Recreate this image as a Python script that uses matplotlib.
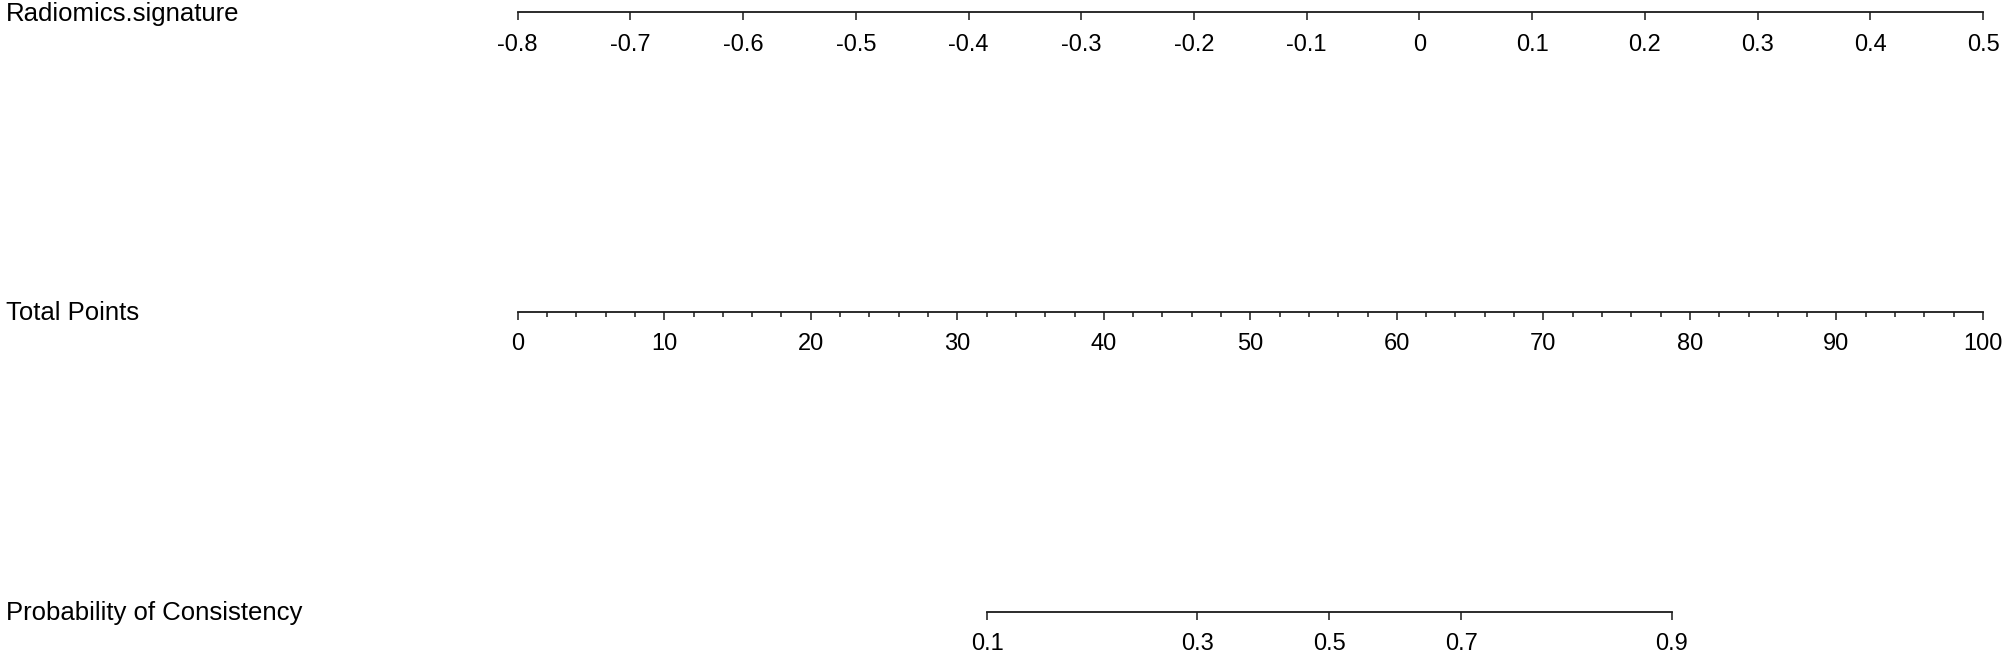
import numpy as np
import matplotlib
matplotlib.use('Agg')
import matplotlib.pyplot as plt

plt.rcParams['font.family'] = ['Liberation Sans', 'DejaVu Sans']

# data
row_names = ['Radiomics.signature', 'Total Points', 'Probability of Consistency']
radiomics_ticks = [-0.8, -0.7, -0.6, -0.5, -0.4, -0.3, -0.2, -0.1, 0, 0.1, 0.2, 0.3, 0.4, 0.5]
radiomics_labels = ['-0.8', '-0.7', '-0.6', '-0.5', '-0.4', '-0.3', '-0.2', '-0.1', '0',
                    '0.1', '0.2', '0.3', '0.4', '0.5']
points_major = [0, 10, 20, 30, 40, 50, 60, 70, 80, 90, 100]
points_minor = list(range(0, 101, 2))
prob_ticks = [0.1, 0.3, 0.5, 0.7, 0.9]
prob_labels = ['0.1', '0.3', '0.5', '0.7', '0.9']
lp_center = 55.4
lp_scale = 10.63

W, H = 2008, 653
fig = plt.figure(figsize=(W / 100, H / 100), dpi=100)

x0, x1 = 517.7, 1983.0       # pixel extent of the axis lines
rows_y = [12.3, 311.7, 611.7]  # pixel y of each axis line
line_col = '#1a1a1a'
lab_size = 18.5
tick_size = 17


def make_row(y_px):
    ax = fig.add_axes([x0 / W, 1 - y_px / H, (x1 - x0) / W, 0.0001])
    for s in ['top', 'left', 'right']:
        ax.spines[s].set_visible(False)
    ax.spines['bottom'].set_color(line_col)
    ax.spines['bottom'].set_linewidth(1.3)
    ax.set_yticks([])
    ax.patch.set_alpha(0)
    ax.tick_params(axis='x', which='major', direction='out', length=5.8, width=1.1,
                   color=line_col, labelsize=tick_size, pad=9.5)
    ax.tick_params(axis='x', which='minor', direction='out', length=3.3, width=1.1,
                   color=line_col)
    return ax


# Radiomics.signature
ax = make_row(rows_y[0])
ax.set_xlim(radiomics_ticks[0], radiomics_ticks[-1])
ax.spines['bottom'].set_bounds(radiomics_ticks[0], radiomics_ticks[-1])
ax.set_xticks(radiomics_ticks)
ax.set_xticklabels(radiomics_labels)

# Total Points
ax = make_row(rows_y[1])
ax.set_xlim(points_major[0], points_major[-1])
ax.spines['bottom'].set_bounds(points_major[0], points_major[-1])
ax.set_xticks(points_major)
ax.set_xticklabels([str(p) for p in points_major])
ax.set_xticks([p for p in points_minor if p not in points_major], minor=True)

# Probability, placed on the points scale through the logit
prob_pos = [lp_center + lp_scale * np.log(p / (1 - p)) for p in prob_ticks]
ax = make_row(rows_y[2])
ax.set_xlim(points_major[0], points_major[-1])
ax.spines['bottom'].set_bounds(prob_pos[0], prob_pos[-1])
ax.set_xticks(prob_pos)
ax.set_xticklabels(prob_labels)

# row names on the left
for name, y_px in zip(row_names, rows_y):
    fig.text(6 / W, 1 - (y_px + 1.5) / H, name, fontsize=lab_size, ha='left', va='center')

fig.savefig('out.png', dpi=100, facecolor='white')
